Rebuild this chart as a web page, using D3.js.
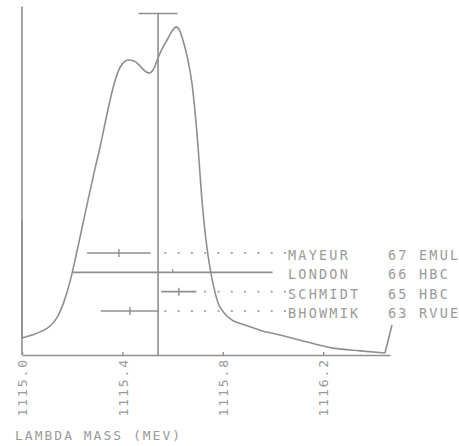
<!DOCTYPE html>
<html>
<head>
<meta charset="utf-8">
<script src="https://cdn.jsdelivr.net/npm/d3@7"></script>
<style>
  html, body { margin: 0; padding: 0; background: #fff; }
  svg { display: block; }
  text { font-family: "DejaVu Sans Mono", "Liberation Mono", monospace; fill: #9a9a9a; }
</style>
</head>
<body>
<script>
// Lambda mass ideogram: summed resolution curve plus individual measurements
const curveMass = [1115.000, 1115.000, 1115.040, 1115.072, 1115.112, 1115.143, 1115.167,
  1115.191, 1115.215, 1115.239, 1115.263, 1115.287, 1115.311, 1115.331, 1115.351, 1115.367,
  1115.382, 1115.402, 1115.422, 1115.446, 1115.470, 1115.490, 1115.506, 1115.522, 1115.542,
  1115.562, 1115.578, 1115.598, 1115.614, 1115.629, 1115.641, 1115.661, 1115.677, 1115.697,
  1115.717, 1115.733, 1115.749, 1115.765, 1115.781, 1115.805, 1115.837, 1115.888, 1115.948,
  1116.028, 1116.108, 1116.239, 1116.347, 1116.446, 1116.474];
const curveValue = [39.1, 4.9, 5.8, 6.7, 8.4, 11.3, 15.4,
  21.2, 28.7, 36.8, 44.9, 52.8, 60.3, 67.2, 73.9, 78.6,
  82.0, 84.6, 85.5, 85.2, 83.8, 82.3, 81.7, 82.6, 86.1,
  89.3, 91.3, 93.9, 95.1, 93.9, 91.3, 85.5, 78.8, 64.3,
  44.9, 33.3, 25.2, 19.4, 15.1, 12.2, 10.1, 8.7, 7.2,
  5.8, 4.3, 2.0, 1.2, 0.6, 8.7];

const names   = ["MAYEUR", "LONDON", "SCHMIDT", "BHOWMIK"];
const sources = ["67 EMUL", "66 HBC", "65 HBC", "63 RVUE"];
const centers = [1115.386, 1115.600, 1115.625, 1115.430];
const errors  = [0.127, 0.398, 0.070, 0.116];

const average = 1115.542;
const averageCap = 0.078;

const tickValues = [1115.0, 1115.4, 1115.8, 1116.2];
const axisTitle = "LAMBDA MASS (MEV)";

const W = 459, H = 446;
const ink = "#8f8f8f";

const svg = d3.select("body").append("svg")
  .attr("width", W).attr("height", H);

const x = d3.scaleLinear().domain([1115.0, 1116.466]).range([22, 390]);
const y = d3.scaleLinear().domain([0, 100]).range([355, 10]);
const row = d3.scalePoint().domain(names).range([253, 311]);

// left frame line
svg.append("line")
  .attr("x1", x(1115.0)).attr("x2", x(1115.0))
  .attr("y1", y(101)).attr("y2", y(0))
  .attr("stroke", ink).attr("stroke-width", 1.6);

// bottom axis
const axis = d3.axisBottom(x)
  .tickValues(tickValues)
  .tickFormat(d3.format(".1f"))
  .tickSize(-3)
  .tickSizeOuter(0);

const gAxis = svg.append("g")
  .attr("transform", `translate(0,${y(0)})`)
  .call(axis);
gAxis.select(".domain").attr("stroke", ink).attr("stroke-width", 1.6);
gAxis.selectAll(".tick line").attr("stroke", ink).attr("stroke-width", 1.4);
gAxis.selectAll(".tick text")
  .attr("transform", "rotate(-90)")
  .attr("x", -3).attr("y", 0).attr("dy", "0.36em")
  .attr("text-anchor", "end")
  .style("font-size", "13px")
  .style("letter-spacing", "1.9px")
  .style("fill", "#9a9a9a")
  .style("font-family", "'DejaVu Sans Mono', monospace");

// axis title
svg.append("text")
  .attr("x", 15).attr("y", 440)
  .style("font-size", "13px")
  .style("letter-spacing", "2.0px")
  .text(axisTitle);

// ideogram curve: vertical start, smooth body, closing stroke
const pts = curveMass.map((m, i) => [x(m), y(curveValue[i])]);
const n = pts.length;
const lin = d3.line();
svg.append("path")
  .attr("d", lin(pts.slice(0, 2)))
  .attr("fill", "none").attr("stroke", ink).attr("stroke-width", 1.6);
svg.append("path")
  .attr("d", d3.line().curve(d3.curveMonotoneX)(pts.slice(1, n - 1)))
  .attr("fill", "none").attr("stroke", ink).attr("stroke-width", 1.6);
svg.append("path")
  .attr("d", lin(pts.slice(n - 2)))
  .attr("fill", "none").attr("stroke", ink).attr("stroke-width", 1.6);

// average marker with cap
svg.append("line")
  .attr("x1", x(average)).attr("x2", x(average))
  .attr("y1", y(99)).attr("y2", y(0))
  .attr("stroke", ink).attr("stroke-width", 1.6);
svg.append("line")
  .attr("x1", x(average - averageCap)).attr("x2", x(average + averageCap))
  .attr("y1", y(99)).attr("y2", y(99))
  .attr("stroke", ink).attr("stroke-width", 1.6);

// measurements
const labelX = 288;
const dotStart = 165.3, dotStep = 13.3;
names.forEach((name, i) => {
  const yy = row(name);
  const lo = x(centers[i] - errors[i]);
  const hi = x(centers[i] + errors[i]);
  const cx = x(centers[i]);
  svg.append("line")
    .attr("x1", lo).attr("x2", hi).attr("y1", yy).attr("y2", yy)
    .attr("stroke", ink).attr("stroke-width", 1.6);
  if (errors[i] > 0.3) {
    svg.append("line")
      .attr("x1", cx).attr("x2", cx).attr("y1", yy - 3).attr("y2", yy)
      .attr("stroke", ink).attr("stroke-width", 1.4);
  } else {
    svg.append("line")
      .attr("x1", cx).attr("x2", cx).attr("y1", yy - 4).attr("y2", yy + 4)
      .attr("stroke", ink).attr("stroke-width", 1.4);
  }
  // dotted leader to the label
  if (labelX - hi > 20) {
    const dots = [];
    for (let k = 0; dotStart + k * dotStep < labelX; k++) {
      const dx = dotStart + k * dotStep;
      if (dx >= hi + 6) dots.push(dx);
    }
    svg.selectAll(null).data(dots).enter().append("rect")
      .attr("x", d => d - 1).attr("y", yy - 1)
      .attr("width", 2).attr("height", 2)
      .attr("fill", "#a8a8a8");
  }
  svg.append("text")
    .attr("x", labelX).attr("y", yy + 7)
    .style("font-size", "13.5px")
    .style("letter-spacing", "2.2px")
    .text(name);
  svg.append("text")
    .attr("x", 388).attr("y", yy + 7)
    .style("font-size", "13.5px")
    .style("letter-spacing", "2.2px")
    .text(sources[i]);
});
</script>
</body>
</html>
